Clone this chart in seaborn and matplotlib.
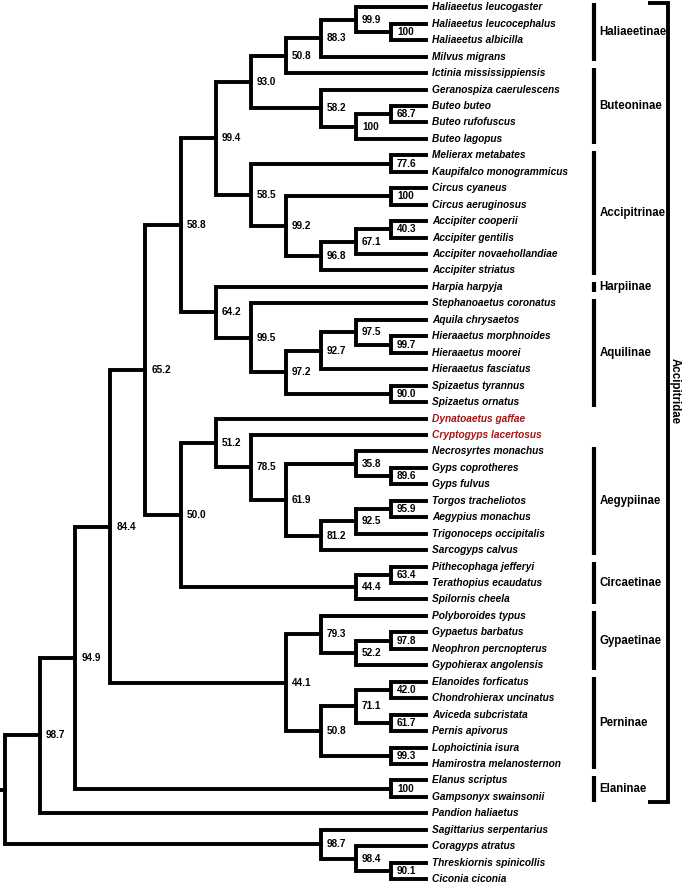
import matplotlib
matplotlib.use("Agg")
import matplotlib.pyplot as plt
import seaborn as sns
import pandas as pd

# ---------------- data ----------------
taxa = [
    "Haliaeetus leucogaster", "Haliaeetus leucocephalus", "Haliaeetus albicilla",
    "Milvus migrans", "Ictinia mississippiensis", "Geranospiza caerulescens",
    "Buteo buteo", "Buteo rufofuscus", "Buteo lagopus", "Melierax metabates",
    "Kaupifalco monogrammicus", "Circus cyaneus", "Circus aeruginosus",
    "Accipiter cooperii", "Accipiter gentilis", "Accipiter novaehollandiae",
    "Accipiter striatus", "Harpia harpyja", "Stephanoaetus coronatus",
    "Aquila chrysaetos", "Hieraaetus morphnoides", "Hieraaetus moorei",
    "Hieraaetus fasciatus", "Spizaetus tyrannus", "Spizaetus ornatus",
    "Dynatoaetus gaffae", "Cryptogyps lacertosus", "Necrosyrtes monachus",
    "Gyps coprotheres", "Gyps fulvus", "Torgos tracheliotos", "Aegypius monachus",
    "Trigonoceps occipitalis", "Sarcogyps calvus", "Pithecophaga jefferyi",
    "Terathopius ecaudatus", "Spilornis cheela", "Polyboroides typus",
    "Gypaetus barbatus", "Neophron percnopterus", "Gypohierax angolensis",
    "Elanoides forficatus", "Chondrohierax uncinatus", "Aviceda subcristata",
    "Pernis apivorus", "Lophoictinia isura", "Hamirostra melanosternon",
    "Elanus scriptus", "Gampsonyx swainsonii", "Pandion haliaetus",
    "Sagittarius serpentarius", "Coragyps atratus", "Threskiornis spinicollis",
    "Ciconia ciconia",
]
fossil_taxa = ["Dynatoaetus gaffae", "Cryptogyps lacertosus"]

# internal nodes: id, child A, child B, support label, depth level
node_ids = [
    "root", "ingroup", "n949", "elan", "n844", "n652", "n588", "n994", "n930",
    "n508a", "n883", "n999", "hal100", "n582", "but100", "n687", "n585", "n776",
    "n992", "cir100", "n968", "n671", "n403", "n642", "n995", "n972", "n927",
    "n975", "n997", "n900", "n500", "n512", "n785", "n619", "n358", "n896",
    "n812", "n925", "n959", "n444", "n634", "n441", "n793", "n522", "n978",
    "n508b", "n711", "n420", "n617", "n993", "outgroup", "n984", "n901",
]
child_a = [
    "ingroup", "n949", "n844", "Elanus scriptus", "n652", "n588", "n994", "n930",
    "n508a", "n883", "n999", "Haliaeetus leucogaster", "Haliaeetus leucocephalus",
    "Geranospiza caerulescens", "n687", "Buteo buteo", "n776", "Melierax metabates",
    "cir100", "Circus cyaneus", "n671", "n403", "Accipiter cooperii",
    "Harpia harpyja", "Stephanoaetus coronatus", "n927", "n975", "Aquila chrysaetos",
    "Hieraaetus morphnoides", "Spizaetus tyrannus", "n512", "Dynatoaetus gaffae",
    "Cryptogyps lacertosus", "n358", "Necrosyrtes monachus", "Gyps coprotheres",
    "n925", "n959", "Torgos tracheliotos", "n634", "Pithecophaga jefferyi",
    "n793", "Polyboroides typus", "n978", "Gypaetus barbatus", "n711", "n420",
    "Elanoides forficatus", "Aviceda subcristata", "Lophoictinia isura",
    "Sagittarius serpentarius", "Coragyps atratus", "Threskiornis spinicollis",
]
child_b = [
    "outgroup", "Pandion haliaetus", "elan", "Gampsonyx swainsonii", "n441", "n500",
    "n642", "n585", "n582", "Ictinia mississippiensis", "Milvus migrans", "hal100",
    "Haliaeetus albicilla", "but100", "Buteo lagopus", "Buteo rufofuscus", "n992",
    "Kaupifalco monogrammicus", "n968", "Circus aeruginosus", "Accipiter striatus",
    "Accipiter novaehollandiae", "Accipiter gentilis", "n995", "n972", "n900",
    "Hieraaetus fasciatus", "n997", "Hieraaetus moorei", "Spizaetus ornatus", "n444",
    "n785", "n619", "n812", "n896", "Gyps fulvus", "Sarcogyps calvus",
    "Trigonoceps occipitalis", "Aegypius monachus", "Spilornis cheela",
    "Terathopius ecaudatus", "n508b", "n522", "Gypohierax angolensis",
    "Neophron percnopterus", "n993", "n617", "Chondrohierax uncinatus",
    "Pernis apivorus", "Hamirostra melanosternon", "n984", "n901", "Ciconia ciconia",
]
support = [
    "", "98.7", "94.9", "100", "84.4", "65.2", "58.8", "99.4", "93.0", "50.8", "88.3",
    "99.9", "100", "58.2", "100", "68.7", "58.5", "77.6", "99.2", "100", "96.8",
    "67.1", "40.3", "64.2", "99.5", "97.2", "92.7", "97.5", "99.7", "90.0", "50.0",
    "51.2", "78.5", "61.9", "35.8", "89.6", "81.2", "92.5", "95.9", "44.4", "63.4",
    "44.1", "79.3", "52.2", "97.8", "50.8", "71.1", "42.0", "61.7", "99.3", "98.7",
    "98.4", "90.1",
]
node_level = [
    0, 1, 2, 11, 3, 4, 5, 6, 7, 8, 9, 10, 11, 9, 10, 11, 7, 11, 8, 11, 9, 10, 11,
    6, 7, 8, 9, 10, 11, 11, 5, 6, 7, 8, 10, 11, 9, 10, 11, 10, 11, 8, 9, 10, 11,
    9, 10, 11, 11, 11, 9, 10, 11,
]
tip_level = 12.0

clade_names = ["Haliaeetinae", "Buteoninae", "Accipitrinae", "Harpiinae",
               "Aquilinae", "Aegypiinae", "Circaetinae", "Gypaetinae",
               "Perninae", "Elaninae"]
clade_first = ["Haliaeetus leucogaster", "Ictinia mississippiensis",
               "Melierax metabates", "Harpia harpyja", "Stephanoaetus coronatus",
               "Necrosyrtes monachus", "Pithecophaga jefferyi",
               "Polyboroides typus", "Elanoides forficatus", "Elanus scriptus"]
clade_last = ["Milvus migrans", "Buteo lagopus", "Accipiter striatus",
              "Harpia harpyja", "Spizaetus ornatus", "Sarcogyps calvus",
              "Spilornis cheela", "Gypohierax angolensis",
              "Hamirostra melanosternon", "Gampsonyx swainsonii"]
family_name = "Accipitridae"

# ---------------- layout ----------------
pos = {}
for i, t in enumerate(taxa):
    pos[t] = (tip_level, float(i))
info = {n: (a, b, s, l) for n, a, b, s, l in zip(node_ids, child_a, child_b, support, node_level)}


def place(n):
    if n in pos:
        return pos[n]
    a, b, s, l = info[n]
    ya = place(a)[1]
    yb = place(b)[1]
    pos[n] = (float(l), (ya + yb) / 2)
    return pos[n]


place("root")

rows = []
for n in node_ids:
    a, b, s, l = info[n]
    xa, ya = pos[a]
    xb, yb = pos[b]
    xn = pos[n][0]
    for k, (x, y) in enumerate([(xa, ya), (xn, ya), (xn, yb), (xb, yb)]):
        rows.append({"seg": n, "order": k, "x": x, "y": y})
# root stub
rx, ry = pos["root"]
rows.append({"seg": "stub", "order": 0, "x": rx - 0.2, "y": ry})
rows.append({"seg": "stub", "order": 1, "x": rx, "y": ry})
seg_df = pd.DataFrame(rows)

# ---------------- plot ----------------
sns.set_theme(style="white")
plt.rcParams["font.family"] = ["Liberation Sans", "DejaVu Sans"]

fig = plt.figure(figsize=(6.85, 8.84), dpi=100)
ax = fig.add_axes([0, 0, 1, 1])

sns.lineplot(data=seg_df, x="x", y="y", units="seg", estimator=None, sort=False,
             color="black", lw=2.8, ax=ax, legend=False,
             solid_joinstyle="miter", solid_capstyle="projecting")

# support values
for n in node_ids:
    a, b, s, l = info[n]
    if s:
        x, y = pos[n]
        ax.text(x + 0.17, y, s, ha="left", va="center", fontsize=7.2,
                fontweight="bold", color="black")

# tip labels
for t in taxa:
    x, y = pos[t]
    col = "#a31515" if t in fossil_taxa else "black"
    ax.text(x + 0.16, y, t, ha="left", va="center", fontsize=7.3,
            fontweight="bold", fontstyle="italic", color=col)

# clade bars
bar_x = 16.78
pad = 0.28
bar_rows = []
for name, f, l in zip(clade_names, clade_first, clade_last):
    y0 = taxa.index(f) - pad
    y1 = taxa.index(l) + pad
    bar_rows.append({"clade": name, "x": bar_x, "y": y0})
    bar_rows.append({"clade": name, "x": bar_x, "y": y1})
    ax.text(bar_x + 0.15, (y0 + y1) / 2, name, ha="left", va="center",
            fontsize=8.3, fontweight="bold", color="black")
bar_df = pd.DataFrame(bar_rows)
sns.lineplot(data=bar_df, x="x", y="y", units="clade", estimator=None, sort=False,
             color="black", lw=3.0, ax=ax, legend=False, solid_capstyle="butt")

# family bracket
fy0 = taxa.index(clade_first[0]) - pad
fy1 = taxa.index(clade_last[-1]) + pad
br_df = pd.DataFrame({"x": [18.32, 18.89, 18.89, 18.32],
                      "y": [fy0, fy0, fy1, fy1], "u": [0, 0, 0, 0]})
sns.lineplot(data=br_df, x="x", y="y", units="u", estimator=None, sort=False,
             color="black", lw=2.8, ax=ax, legend=False,
             solid_joinstyle="miter", solid_capstyle="butt")
ax.text(19.09, (fy0 + fy1) / 2 - 0.7, family_name, rotation=-90, ha="center",
        va="center", fontsize=8.3, fontweight="bold", color="black")

ax.set_xlim(-0.1425, 19.373)
ax.set_ylim(53.295, -0.4438)
ax.axis("off")
fig.savefig("out.png", dpi=100)
